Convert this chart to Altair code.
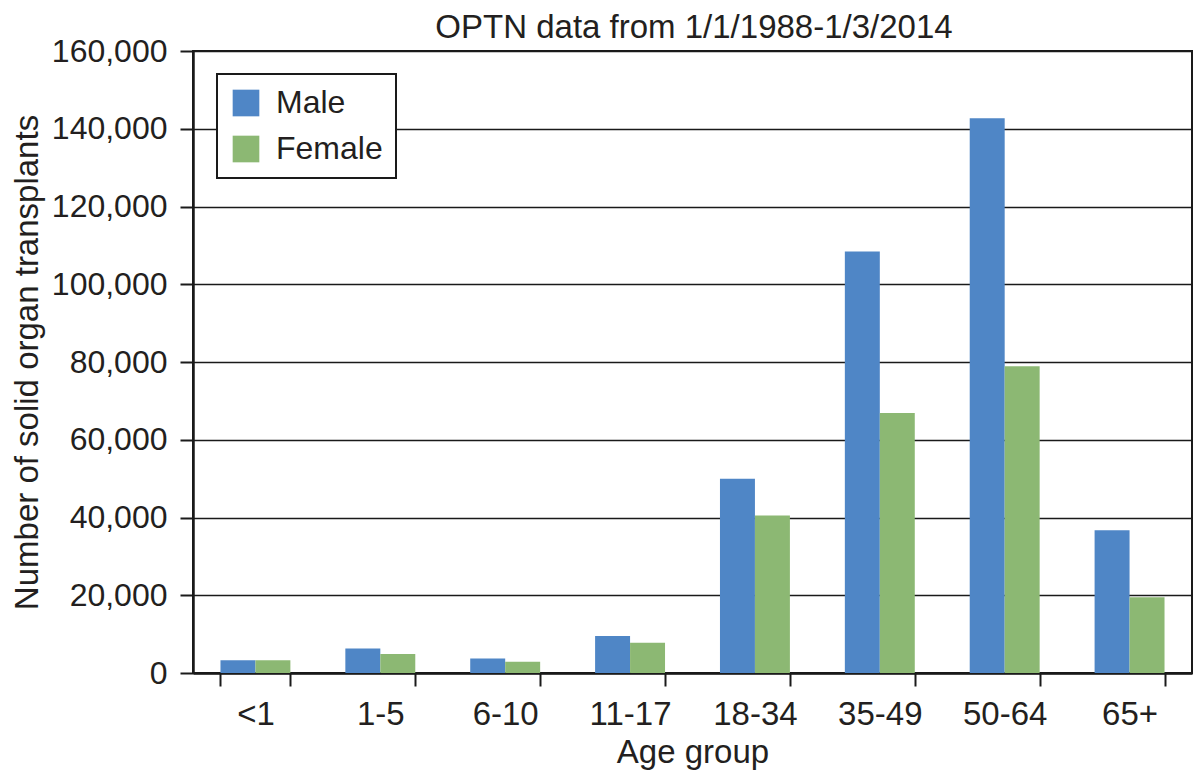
import altair as alt
import pandas as pd

ages = ["<1", "1-5", "6-10", "11-17", "18-34", "35-49", "50-64", "65+"]
male = [3300, 6300, 3700, 9500, 50000, 108400, 142700, 36700]
female = [3300, 4900, 2900, 7800, 40500, 66900, 78900, 19500]
sexes = ["Male", "Female"]
colors = ["#4F86C6", "#8CB873"]
y_ticks = [0, 20000, 40000, 60000, 80000, 100000, 120000, 140000, 160000]
title_text = ["OPTN data from 1/1/1988-1/3/2014"]

rows = []
for a, m, f in zip(ages, male, female):
    rows.append({"age": a, "sex": "Male", "value": m})
    rows.append({"age": a, "sex": "Female", "value": f})
df = pd.DataFrame(rows)

FONT = "Liberation Sans"
TXT = "#231f20"

bars = alt.Chart(df).mark_bar().encode(
    x=alt.X("age:N", sort=ages,
            scale=alt.Scale(paddingInner=0.44, paddingOuter=0.22),
            axis=alt.Axis(title="Age group", labelAngle=0, tickBand="extent",
                          grid=False, labelPadding=12, titlePadding=5,
                          labelFontSize=33, titleFontSize=33)),
    xOffset=alt.XOffset("sex:N", sort=sexes,
                        scale=alt.Scale(paddingInner=0, paddingOuter=0)),
    y=alt.Y("value:Q", scale=alt.Scale(domain=[0, 160000], nice=False),
            axis=alt.Axis(title="Number of solid organ transplants", values=y_ticks,
                          format=",.0f", grid=True, gridColor="#1a1a1a", gridWidth=1.3,
                          labelPadding=13, titlePadding=7,
                          labelFontSize=32, titleFontSize=33)),
    color=alt.Color("sex:N", sort=sexes,
                    scale=alt.Scale(domain=sexes, range=colors),
                    legend=alt.Legend(title=None, orient="none", legendX=24, legendY=23,
                                      strokeColor="#1a1a1a", fillColor="white",
                                      padding=13, symbolType="square", symbolSize=711,
                                      symbolStrokeWidth=0, labelFontSize=32,
                                      labelFont=FONT, labelColor=TXT,
                                      rowPadding=14, labelOffset=14)),
)

title = alt.Chart(pd.DataFrame({"t": title_text})).mark_text(
    font=FONT, fontSize=33, color=TXT, align="center", baseline="alphabetic",
).encode(
    text="t:N", x=alt.value(501), y=alt.value(-13),
)

chart = alt.layer(bars, title).properties(
    width=999, height=622,
    autosize=alt.AutoSizeParams(type="none"),
    padding={"left": 185, "top": 43, "right": 1, "bottom": 99},
).configure_axis(
    labelFont=FONT, titleFont=FONT,
    labelColor=TXT, titleColor=TXT, titleFontWeight="normal",
    domainColor="#1a1a1a", domainWidth=2.5, tickColor="#1a1a1a", tickWidth=2,
    tickSize=13,
).configure_view(
    stroke="#1a1a1a", strokeWidth=2,
).configure_legend(
    strokeWidth=2,
)

chart.save("out.html", embed_options={"renderer": "svg", "actions": False})
